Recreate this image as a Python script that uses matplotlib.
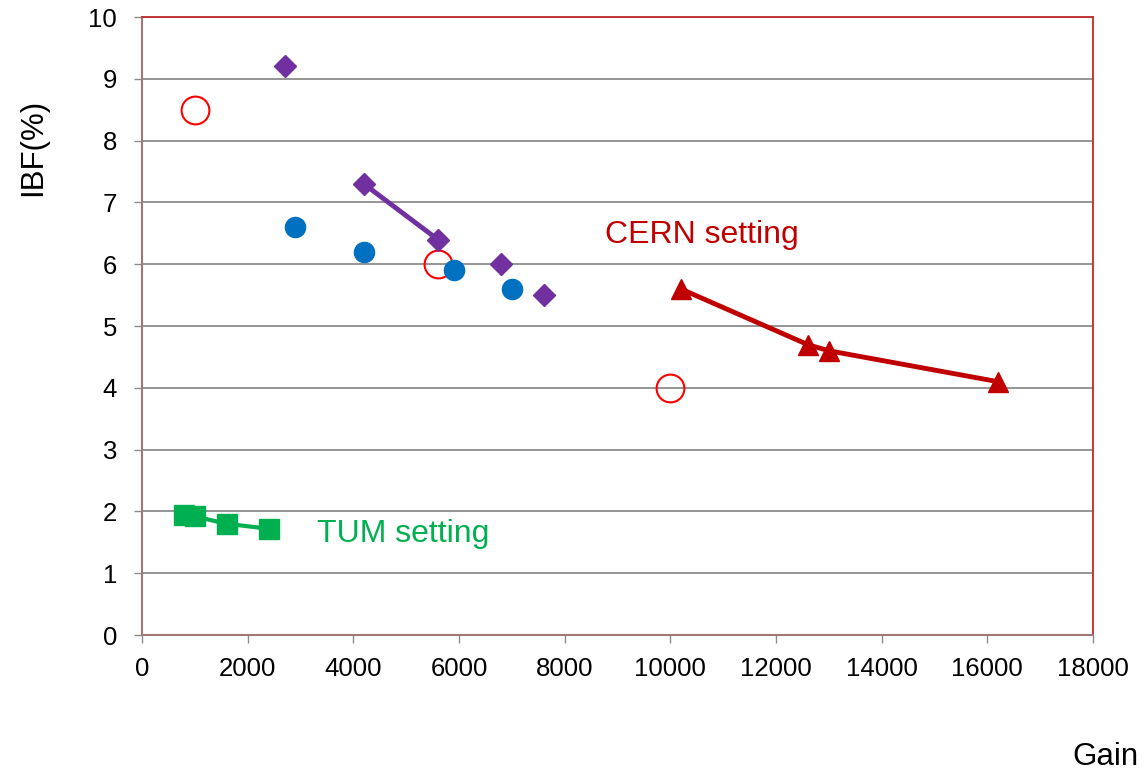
import matplotlib.pyplot as plt

# IBF versus gain for the GEM settings
tum_gain = [800, 1000, 1600, 2400]
tum_ibf = [1.95, 1.92, 1.80, 1.72]

cern_gain = [10200, 12600, 13000, 16200]
cern_ibf = [5.6, 4.7, 4.6, 4.1]

open_gain = [1000, 5600, 10000]
open_ibf = [8.5, 6.0, 4.0]

blue_gain = [2900, 4200, 5900, 7000]
blue_ibf = [6.6, 6.2, 5.9, 5.6]

diamond_gain = [2700, 6800, 7600]
diamond_ibf = [9.2, 6.0, 5.5]
diamond_line_gain = [4200, 5600]
diamond_line_ibf = [7.3, 6.4]

plt.rcParams['font.family'] = ['Liberation Sans', 'DejaVu Sans']

fig = plt.figure(figsize=(11.44, 7.75), dpi=100)
ax = fig.add_axes([0.1241, 0.1806, 0.8313, 0.7974])

ax.plot(open_gain, open_ibf, 'o', ms=20, mfc='none', mec='#FF0000', mew=1.5, zorder=3)
ax.plot(blue_gain, blue_ibf, 'o', ms=14.5, color='#0070C0', zorder=4)
ax.plot(diamond_gain, diamond_ibf, 'D', ms=11, color='#7030A0', zorder=4)
ax.plot(diamond_line_gain, diamond_line_ibf, 'D-', ms=11, lw=3.5, color='#7030A0', zorder=4)
ax.plot(cern_gain, cern_ibf, '^-', ms=14.5, lw=3.5, color='#C00000', zorder=4)
ax.plot(tum_gain, tum_ibf, 's-', ms=14.5, lw=3, color='#00B050', zorder=4)

ax.text(8770, 6.34, 'CERN setting', color='#C00000', fontsize=23, va='baseline')
ax.text(3310, 1.51, 'TUM setting', color='#00B050', fontsize=23, va='baseline')

ax.set_xlim(0, 18000)
ax.set_ylim(0, 10)
ax.set_xticks(range(0, 18001, 2000))
ax.set_yticks(range(0, 11))
ax.yaxis.grid(True, color='#8C8C8C', lw=1.3)
ax.set_axisbelow(True)
ax.tick_params(labelsize=18.5, length=6, width=1, color='#8C8C8C')
ax.tick_params(axis='y', pad=12)
ax.tick_params(axis='x', pad=10)

for side in ['top', 'right']:
    ax.spines[side].set_color('#C0292B')
    ax.spines[side].set_linewidth(1.3)
for side in ['left', 'bottom']:
    ax.spines[side].set_color('#A07878')
    ax.spines[side].set_linewidth(1.5)

fig.text(0.0288, 0.810, 'IBF(%)', rotation=90, fontsize=22.5, ha='center', va='center')
fig.text(0.966, 0.013, 'Gain', fontsize=22.5, ha='center', va='baseline')

fig.savefig('out.png', dpi=100)
